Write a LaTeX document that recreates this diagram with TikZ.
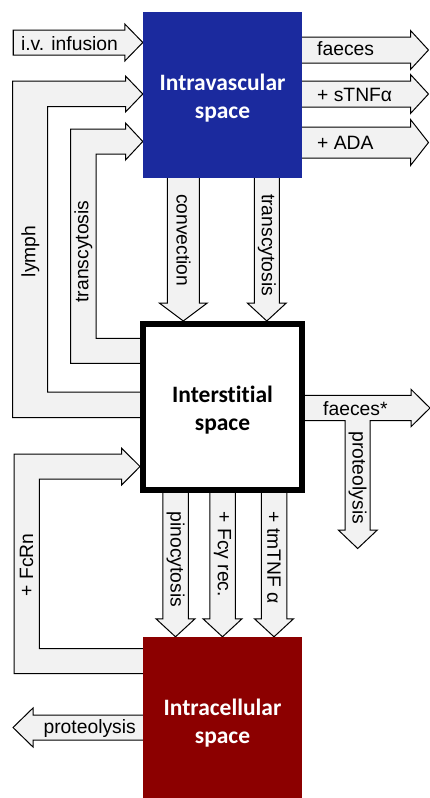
\documentclass[tikz,border=0pt]{standalone}
\usepackage{fontspec}
\setmainfont{Liberation Sans}
\newfontfamily\boxfont[Ligatures=NoCommon]{Carlito}
\usetikzlibrary{calc,backgrounds}
\definecolor{vascblue}{RGB}{27,42,158}
\definecolor{cellred}{RGB}{140,0,0}
\definecolor{arrowgray}{RGB}{242,242,242}

% block arrow: tail, tip, shaft width, head width, head length
\newcommand{\fatarrow}[5][18pt]{%
  \coordinate (hb) at ($#3!#1!#2$);
  \filldraw[blockarrow] ($#2!#4pt/2!90:#3$) -- ($(hb)!#4pt/2!90:#3$) -- ($(hb)!#5pt/2!90:#3$) -- #3
    -- ($(hb)!#5pt/2!-90:#3$) -- ($(hb)!#4pt/2!-90:#3$) -- ($#2!#4pt/2!-90:#3$) -- cycle;
}

\begin{document}
\begin{tikzpicture}[x=1pt, y=-1pt,
    space/.style={minimum width=159pt, minimum height=166pt, inner sep=0pt, align=center,
      font=\boxfont\bfseries\fontsize{23.5}{28.5}\selectfont},
    blockarrow/.style={draw=black, fill=arrowgray, line width=1pt, line join=miter},
    lbl/.style={font=\fontsize{19.3}{22}\selectfont, inner sep=0pt},
    down/.style={lbl, rotate=-90, anchor=west},
    up/.style={lbl, rotate=90}]
  \useasboundingbox (0,0) rectangle (429,798);

  \node[space, fill=vascblue, text=white] (vasc) at (222.5,95) {\rule{0pt}{23pt}Intravascular\\space};
  \node[space, draw, line width=6pt, fill=white] (inter) at (222.5,407) {\rule{0pt}{23pt}Interstitial\\space};
  \node[space, fill=cellred, text=white] (cell) at (222.5,720) {\rule{0pt}{23pt}Intracellular\\space};

  \begin{scope}[on background layer]
    % into and out of the blood
    \fatarrow{(13,42.5)}{(vasc.west |- 0,42.5)}{25}{37}
    \draw[line width=1pt] (13,30) -- (13,55);
    \fatarrow{(vasc.center |- 0,50)}{(428.5,50)}{26}{39}
    \fatarrow{(vasc.center |- 0,94)}{(428.5,94)}{26}{39}
    \fatarrow{(vasc.center |- 0,142.5)}{(428.5,142.5)}{31}{46}
    \node[lbl, anchor=base] at (69.5,50) {i.v. infusion};
    \node[lbl, anchor=base west] at (317,55.5) {faeces};
    \node[lbl, anchor=base west] at (317,101) {+ sTNFα};
    \node[lbl, anchor=base west] at (317,149) {+ ADA};

    % blood -> interstitium
    \fatarrow{(183.3,0 |- vasc.center)}{(183.3,0 |- inter.north)}{32}{48}
    \fatarrow{(266.8,0 |- vasc.center)}{(266.8,0 |- inter.north)}{25}{39}
    \node[down] at (183.5,194) {convection};
    \node[down] at (266.8,194) {transcytosis};

    % interstitium -> blood
    \filldraw[blockarrow] (inter.center |- 0,392) -- (47.7,392) -- (47.7,106.5) -- (125.5,106.5)
      -- (125.5,112) -- (vasc.west |- 0,94) -- (125.5,76) -- (125.5,81) -- (12.7,81)
      -- (12.7,417.5) -- (inter.center |- 0,417.5) -- cycle;
    \filldraw[blockarrow] (inter.center |- 0,338.3) -- (96,338.3) -- (96,154) -- (125.5,154)
      -- (125.5,160) -- (vasc.west |- 0,141.5) -- (125.5,123) -- (125.5,129) -- (70.7,129)
      -- (70.7,363.3) -- (inter.center |- 0,363.3) -- cycle;
    \node[up] at (30.3,251.5) {lymph};
    \node[up] at (83.3,251.5) {transcytosis};

    % out of the interstitium
    \filldraw[blockarrow] (inter.center |- 0,395.3) -- (411,395.3) -- (411,389.3) -- (430,408)
      -- (411,426.7) -- (411,420.7) -- (370,420.7) -- (370,530) -- (377.3,530) -- (357.7,548.5)
      -- (338.3,530) -- (345,530) -- (345,420.7) -- (inter.center |- 0,420.7) -- cycle;
    \node[lbl, anchor=base west] at (323,415) {faeces*};
    \node[down] at (357.7,431.5) {proteolysis};

    % interstitium -> cells
    \fatarrow{(175.5,0 |- inter.center)}{(175.5,0 |- cell.north)}{25.5}{39}
    \fatarrow{(222.5,0 |- inter.center)}{(222.5,0 |- cell.north)}{25.5}{39}
    \fatarrow{(274,0 |- inter.center)}{(274,0 |- cell.north)}{25.5}{39}
    \node[down] at (175.5,511.5) {pinocytosis};
    \node[down] at (222.5,511.5) {+ Fcγ rec.};
    \node[down] at (274,511.5) {+ tmTNF α};

    % cells -> interstitium, and out
    \filldraw[blockarrow] (cell.center |- 0,648.5) -- (39.3,648.5) -- (39.3,479) -- (121.7,479)
      -- (121.7,485) -- (inter.west |- 0,466.5) -- (121.7,448.3) -- (121.7,454) -- (14,454)
      -- (14,673.5) -- (cell.center |- 0,673.5) -- cycle;
    \node[up] at (26.7,564.7) {+ FcRn};
    \fatarrow[20pt]{(cell.center |- 0,727.5)}{(13,727.5)}{25}{39}
    \node[lbl, anchor=base] at (89.7,733.5) {proteolysis};
  \end{scope}
\end{tikzpicture}
\end{document}
